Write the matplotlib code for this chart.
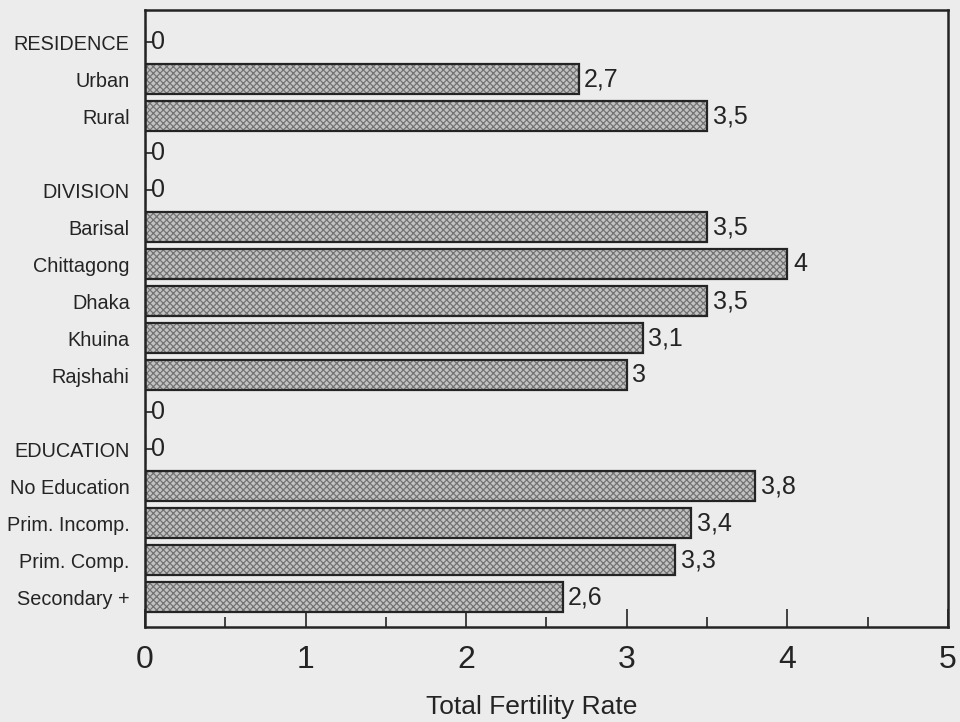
import matplotlib
matplotlib.use("Agg")
import matplotlib.pyplot as plt
import numpy as np

# ----------- DATA -----------
categories = ["RESIDENCE", "Urban", "Rural", "", "DIVISION", "Barisal",
              "Chittagong", "Dhaka", "Khuina", "Rajshahi", "", "EDUCATION",
              "No Education", "Prim. Incomp.", "Prim. Comp.", "Secondary +"]
tfr = [0, 2.7, 3.5, 0, 0, 3.5, 4.0, 3.5, 3.1, 3.0, 0, 0, 3.8, 3.4, 3.3, 2.6]
x_ticks = [0, 1, 2, 3, 4, 5]
x_label = "Total Fertility Rate"

# ----------- STYLE -----------
BG = "#ececec"
INK = "#242424"
plt.rcParams["font.family"] = ["Liberation Sans", "DejaVu Sans"]
plt.rcParams["hatch.linewidth"] = 0.9


def fmt(v):
    # comma decimal, drop trailing ,0
    s = f"{v:.1f}".rstrip("0").rstrip(".")
    return s.replace(".", ",")


fig = plt.figure(figsize=(9.6, 7.22), dpi=100, facecolor=BG)
ax = fig.add_axes([0.151, 0.1316, 0.8365, 0.8545], facecolor=BG)

y = np.arange(len(categories))

# textured fill, then dark outline on top
ax.barh(y, tfr, height=0.8, color="#c2c2c2", edgecolor="#747474",
        hatch="xxxxx", linewidth=0, zorder=2)
bars = ax.barh(y, tfr, height=0.8, fill=False, edgecolor=INK,
               linewidth=1.6, zorder=3)
ax.bar_label(bars, labels=[fmt(v) for v in tfr], padding=4,
             fontsize=18, color=INK)

ax.set_xlim(0, 5)
ax.set_ylim(len(categories) - 1 + 0.81, -0.865)

ax.set_yticks(y)
ax.set_yticklabels(categories, fontsize=14.3, color=INK)
ax.tick_params(axis="y", direction="in", length=6, width=1.2, color=INK, pad=11)

ax.set_xticks(x_ticks)
ax.set_xticks(np.arange(0.5, 5, 1), minor=True)
ax.set_xticklabels([str(t) for t in x_ticks], fontsize=23, color=INK)
ax.tick_params(axis="x", which="major", direction="in", length=13, width=1.2,
               color=INK, pad=13)
ax.tick_params(axis="x", which="minor", direction="in", length=7, width=1.2,
               color=INK)
ax.set_xlabel(x_label, fontsize=19, color=INK)
ax.xaxis.set_label_coords(0.482, -0.111)

for s in ax.spines.values():
    s.set_linewidth(1.8)
    s.set_color(INK)

fig.savefig("out.png", dpi=100, facecolor=BG)
